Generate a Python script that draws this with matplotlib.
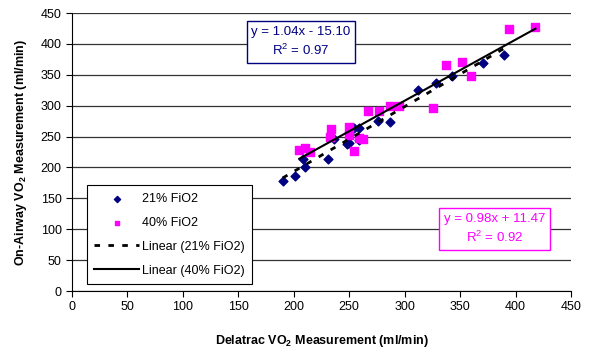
import matplotlib
matplotlib.use("Agg")
import matplotlib.pyplot as plt
import numpy as np

plt.rcParams["font.family"] = ["Liberation Sans", "DejaVu Sans"]
plt.rcParams["mathtext.fontset"] = "custom"
plt.rcParams["mathtext.rm"] = "Liberation Sans"
plt.rcParams["mathtext.bf"] = "Liberation Sans:bold"

# 21% FiO2 (Delatrac, On-Airway)
x21 = [190, 201, 208, 210, 231, 236, 248, 250, 254, 259, 259, 276, 287, 312, 328, 343, 371, 390]
y21 = [178, 186, 214, 200, 214, 246, 238, 240, 264, 264, 244, 276, 274, 326, 336, 348, 369, 382]

# 40% FiO2
x40 = [205, 210, 215, 233, 234, 250, 250, 254, 259, 262, 267, 277, 287, 295, 326, 337, 352, 360, 394, 418]
y40 = [229, 231, 225, 250, 262, 265, 253, 226, 248, 246, 291, 291, 300, 300, 297, 366, 371, 348, 424, 427]

eq21 = "y = 1.04x - 15.10\nR$^2$ = 0.97"
eq40 = "y = 0.98x + 11.47\nR$^2$ = 0.92"

navy = "#000080"
magenta = "#FF00FF"

fig = plt.figure(figsize=(5.92, 3.53), dpi=100)
ax = fig.add_axes([0.1216, 0.1756, 0.8429, 0.7874])

ax.set_xlim(0, 450)
ax.set_ylim(0, 450)
ax.set_xticks(np.arange(0, 451, 50))
ax.set_yticks(np.arange(0, 451, 50))
ax.yaxis.grid(True, color="#333333", linewidth=0.9)
ax.set_axisbelow(True)
for s in ["top", "right"]:
    ax.spines[s].set_visible(False)
ax.tick_params(direction="out", length=4, labelsize=9, width=0.8)

ax.scatter(x21, y21, marker="D", s=20, color=navy, label="21% FiO2", zorder=3)
ax.scatter(x40, y40, marker="s", s=26, color=magenta, label="40% FiO2", zorder=3)

# trendlines over each series' data range
p21 = np.polyfit(x21, y21, 1)
p40 = np.polyfit(x40, y40, 1)
xx21 = np.array([min(x21), max(x21)])
xx40 = np.array([min(x40), max(x40)])
ax.plot(xx21, np.polyval(p21, xx21), color="black", linestyle=(0, (2, 3)),
        linewidth=2, label="Linear (21% FiO2)", zorder=4)
ax.plot(xx40, np.polyval(p40, xx40), color="black", linewidth=1.5,
        label="Linear (40% FiO2)", zorder=4)

ax.text(0.459, 0.896, eq21, transform=ax.transAxes, ha="center", va="center",
        color=navy, fontsize=9.5, linespacing=1.4,
        bbox=dict(boxstyle="square,pad=0.35", fc="white", ec=navy, lw=1))
ax.text(0.847, 0.223, eq40, transform=ax.transAxes, ha="center", va="center",
        color=magenta, fontsize=9.5, linespacing=1.4,
        bbox=dict(boxstyle="square,pad=0.35", fc="white", ec=magenta, lw=1))

leg = ax.legend(loc="lower left", bbox_to_anchor=(0.03, 0.025), fontsize=9,
                frameon=True, fancybox=False, edgecolor="black", framealpha=1,
                handlelength=3.6, borderpad=0.6, labelspacing=0.95,
                handletextpad=0.2, markerscale=0.7, borderaxespad=0)
leg.get_frame().set_linewidth(0.8)

ax.set_xlabel(r"Delatrac VO$_\mathbf{2}$ Measurement (ml/min)", fontsize=9,
              fontweight="bold", labelpad=14)
ax.set_ylabel(r"On-Airway VO$_\mathbf{2}$ Measurement (ml/min)", fontsize=9,
              fontweight="bold", labelpad=8)

fig.savefig("out.png", dpi=100)
